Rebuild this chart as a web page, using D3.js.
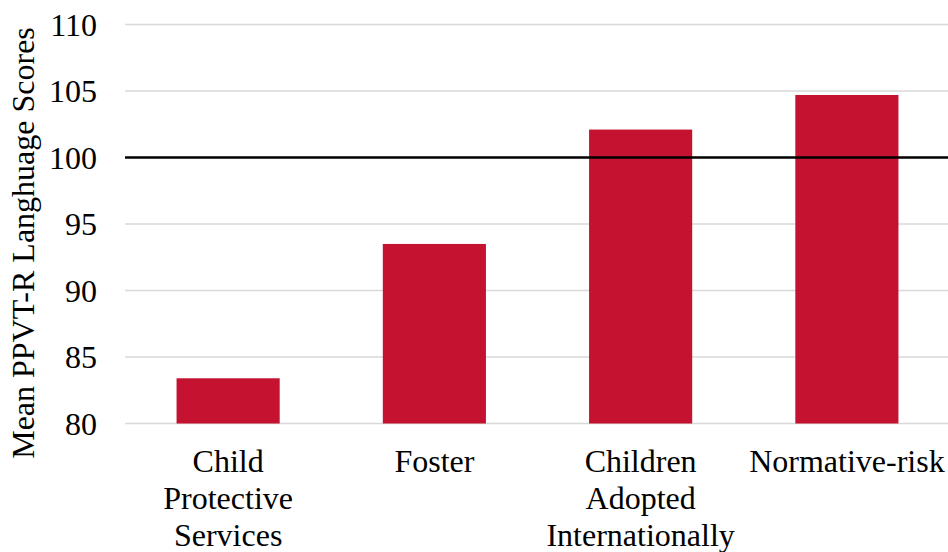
<!DOCTYPE html>
<html><head><meta charset="utf-8">
<script src="https://cdn.jsdelivr.net/npm/d3@7"></script>
<style>body{margin:0;background:#fff}svg{display:block}text{font-family:"Liberation Serif","Times New Roman","DejaVu Serif",serif}</style>
</head><body>
<script>
const categories = [["Child","Protective","Services"],["Foster"],["Children","Adopted","Internationally"],["Normative-risk"]];
const values = [83.4, 93.5, 102.1, 104.7];
const yTicks = [80, 85, 90, 95, 100, 105, 110];
const refValue = 100;
const yTitle = "Mean PPVT-R Langhuage Scores";

const W = 948, H = 552;
const svg = d3.select("body").append("svg").attr("width", W).attr("height", H);
const x = d3.scaleBand().domain(d3.range(values.length)).range([125, 950]).paddingInner(0.5).paddingOuter(0.25);
const y = d3.scaleLinear().domain([80, 110]).range([423.5, 24.5]);

const grid = svg.append("g");
grid.selectAll("line").data(yTicks.filter(t => t !== refValue)).join("line")
  .attr("x1", 125).attr("x2", W).attr("y1", d => y(d)).attr("y2", d => y(d))
  .attr("stroke", "#d9d9d9").attr("stroke-width", 1.5);

const yAxis = svg.append("g").attr("transform", "translate(125,0)")
  .call(d3.axisLeft(y).tickValues(yTicks).tickSize(0).tickPadding(28));
yAxis.attr("font-family", null).attr("font-size", null);
yAxis.select(".domain").remove();
yAxis.selectAll("text").style("font-size", "32px").attr("fill", "#000").attr("dy", "0.34em");

svg.append("g").selectAll("rect").data(values).join("rect")
  .attr("x", (d, i) => x(i)).attr("width", x.bandwidth())
  .attr("y", d => y(d)).attr("height", d => y(80) - y(d))
  .attr("fill", "#C41230");

svg.append("line").attr("x1", 125).attr("x2", W).attr("y1", y(refValue)).attr("y2", y(refValue))
  .attr("stroke", "#000").attr("stroke-width", 2.5);

const labels = svg.append("g");
categories.forEach((lines, i) => {
  const t = labels.append("text").attr("text-anchor", "middle")
    .style("font-size", "32px").attr("fill", "#000");
  lines.forEach((l, j) => {
    t.append("tspan").attr("x", x(i) + x.bandwidth() / 2).attr("y", 472 + j * 37).text(l);
  });
});

svg.append("text").attr("transform", "translate(34,243) rotate(-90)")
  .attr("text-anchor", "middle").style("font-size", "32px")
  .attr("fill", "#000").text(yTitle);
</script>
</body></html>
